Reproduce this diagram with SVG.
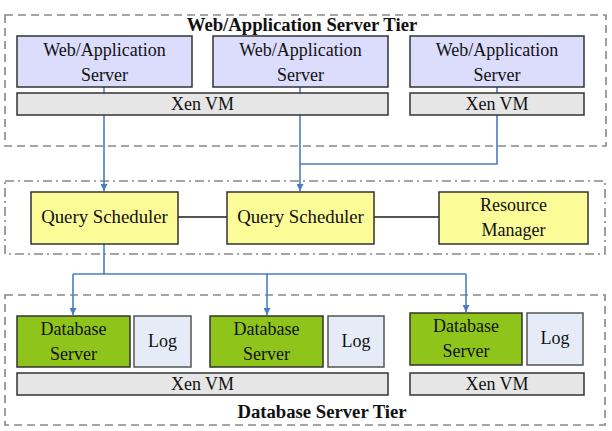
<svg xmlns="http://www.w3.org/2000/svg" width="612" height="431" viewBox="0 0 612 431" font-family="'Liberation Serif', 'DejaVu Serif', serif">
<defs>
<marker id="arr" viewBox="0 0 10 10" refX="10" refY="5" markerWidth="7" markerHeight="7" markerUnits="userSpaceOnUse" orient="auto">
<path d="M0,0 L10,5 L0,10 z" fill="#4a7cc4"/>
</marker>
<style>
text{font-family:'Liberation Serif','DejaVu Serif',serif;font-size:18px;fill:#111;text-anchor:middle}
.title{font-weight:bold;font-size:18.7px}
.qt{font-size:18.8px}
.tier{fill:none;stroke:#888;stroke-width:1.6;stroke-dasharray:8 5}
.tier2{fill:none;stroke:#888;stroke-width:1.6;stroke-dasharray:9 4 2 4}
.web{fill:#dcdcfc;stroke:#333;stroke-width:1.5}
.xen{fill:#e6e6e6;stroke:#333;stroke-width:1.5}
.qs{fill:#fbfb98;stroke:#333;stroke-width:1.5}
.db{fill:#8fc41a;stroke:#333;stroke-width:1.5}
.log{fill:#e6ecf7;stroke:#555;stroke-width:1.5}
.blue{fill:none;stroke:#4a7cc4;stroke-width:1.6}
.gray{fill:none;stroke:#555;stroke-width:2}
</style>
</defs>
<g id="tier-web">
<rect class="tier" x="5" y="15" width="601" height="131"/>
<text class="title" x="302" y="31">Web/Application Server Tier</text>
</g>
<g id="tier-mid">
<rect class="tier2" x="5" y="181" width="600" height="73"/>
</g>
<g id="tier-db">
<rect class="tier" x="5" y="295" width="600" height="130"/>
<text class="title" x="322" y="418">Database Server Tier</text>
</g>
<g id="connectors">
<path class="blue" d="M104,87 V191" marker-end="url(#arr)"/>
<path class="blue" d="M300,87 V191" marker-end="url(#arr)"/>
<path class="blue" d="M497,87 V164 H300"/>
<path class="blue" d="M104,244 V274"/>
<path class="blue" d="M73,274 H466"/>
<path class="blue" d="M73,274 V315" marker-end="url(#arr)"/>
<path class="blue" d="M267,274 V315" marker-end="url(#arr)"/>
<path class="blue" d="M466,274 V312" marker-end="url(#arr)"/>
<path class="gray" d="M178,217 H227"/>
<path class="gray" d="M374,217 H439"/>
</g>
<g id="web1">
<rect class="web" x="17" y="36" width="175" height="51"/>
<text x="104.5" y="56">Web/Application</text>
<text x="104.5" y="81">Server</text>
</g>
<g id="web2">
<rect class="web" x="213" y="36" width="175" height="51"/>
<text x="300.5" y="56">Web/Application</text>
<text x="300.5" y="81">Server</text>
</g>
<g id="web3">
<rect class="web" x="410" y="36" width="174" height="51"/>
<text x="497" y="56">Web/Application</text>
<text x="497" y="81">Server</text>
</g>
<g id="xen-web1">
<rect class="xen" x="17" y="93" width="371" height="22"/>
<text x="202.5" y="110">Xen VM</text>
</g>
<g id="xen-web2">
<rect class="xen" x="410" y="93" width="174" height="22"/>
<text x="497" y="110">Xen VM</text>
</g>
<g id="qs1">
<rect class="qs" x="31" y="192" width="147" height="52"/>
<text class="qt" x="104.5" y="223">Query Scheduler</text>
</g>
<g id="qs2">
<rect class="qs" x="227" y="192" width="147" height="52"/>
<text class="qt" x="300.5" y="223">Query Scheduler</text>
</g>
<g id="rm">
<rect class="qs" x="439" y="192" width="149" height="52"/>
<text x="513.5" y="211">Resource</text>
<text x="513.5" y="236">Manager</text>
</g>
<g id="db1">
<rect class="db" x="17" y="316" width="113" height="51"/>
<text x="73.5" y="335">Database</text>
<text x="73.5" y="360">Server</text>
</g>
<g id="log1">
<rect class="log" x="134" y="316" width="57" height="51"/>
<text x="162.5" y="347">Log</text>
</g>
<g id="db2">
<rect class="db" x="210" y="316" width="113" height="51"/>
<text x="266.5" y="335">Database</text>
<text x="266.5" y="360">Server</text>
</g>
<g id="log2">
<rect class="log" x="328" y="316" width="56" height="51"/>
<text x="356" y="347">Log</text>
</g>
<g id="db3">
<rect class="db" x="410" y="313" width="112" height="52"/>
<text x="466" y="332">Database</text>
<text x="466" y="357">Server</text>
</g>
<g id="log3">
<rect class="log" x="527" y="313" width="56" height="52"/>
<text x="555" y="344">Log</text>
</g>
<g id="xen-db1">
<rect class="xen" x="17" y="373" width="371" height="22"/>
<text x="202.5" y="390">Xen VM</text>
</g>
<g id="xen-db2">
<rect class="xen" x="410" y="373" width="174" height="22"/>
<text x="497" y="390">Xen VM</text>
</g>
</svg>
